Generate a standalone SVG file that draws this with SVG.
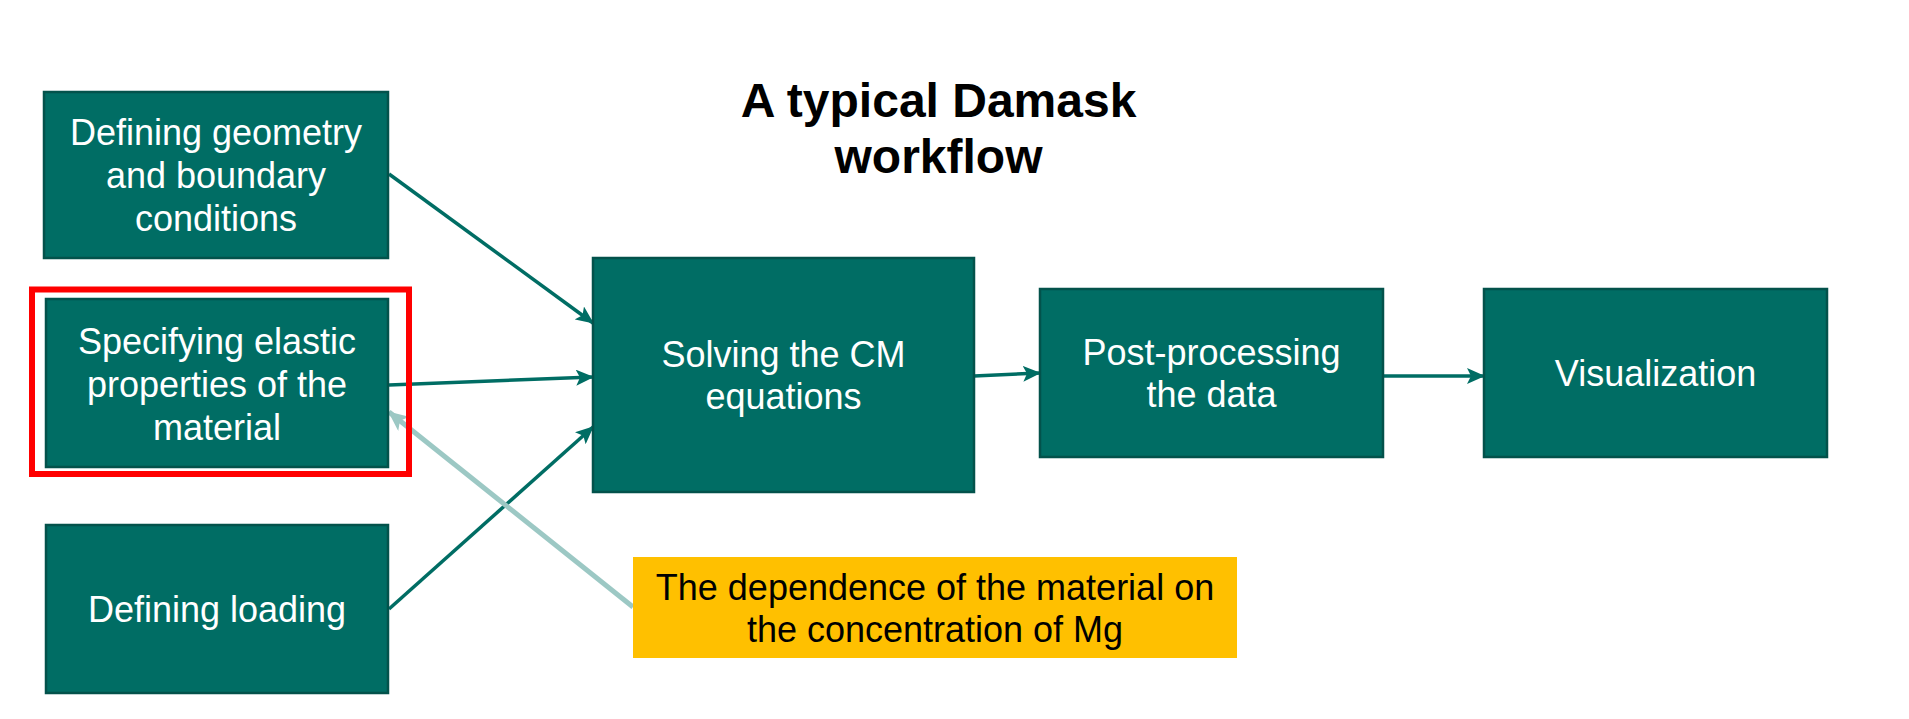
<svg xmlns="http://www.w3.org/2000/svg" width="1909" height="719" viewBox="0 0 1909 719">
<style>
.box{fill:#006D64;stroke:#03524B;stroke-width:2.5}
.lbl{font-family:"Liberation Sans",Arial,sans-serif;font-size:36px;fill:#ffffff;text-anchor:middle}
.note{font-family:"Liberation Sans",Arial,sans-serif;font-size:36px;fill:#000000;text-anchor:middle}
.title{font-family:"Liberation Sans",Arial,sans-serif;font-size:48px;font-weight:bold;fill:#000000;text-anchor:middle}
.conn{stroke:#006D64;stroke-width:3.5;fill:none;marker-end:url(#ah)}
.conn2{stroke:#9CC8C4;stroke-width:5;fill:none;marker-end:url(#ah2)}
</style>
<defs>
<marker id="ah" markerUnits="userSpaceOnUse" markerWidth="18" markerHeight="16" refX="17" refY="8" orient="auto">
<path d="M0,0 L18,8 L0,16 L4,8 Z" fill="#006D64"/>
</marker>
<marker id="ah2" markerUnits="userSpaceOnUse" markerWidth="20" markerHeight="18" refX="19" refY="9" orient="auto">
<path d="M0,0 L20,9 L0,18 L5,9 Z" fill="#9CC8C4"/>
</marker>
</defs>
<rect width="1909" height="719" fill="#ffffff"/>
<g id="title">
<text class="title" x="938.5" y="117">A typical Damask</text>
<text class="title" x="938.5" y="173">workflow</text>
</g>
<g id="connectors">
<line class="conn" x1="389" y1="174" x2="593" y2="323"/>
<line class="conn" x1="389" y1="385" x2="593" y2="377"/>
<line class="conn" x1="389" y1="609" x2="593" y2="427"/>
<line class="conn" x1="974" y1="376" x2="1040" y2="373"/>
<line class="conn" x1="1383" y1="376" x2="1484" y2="376"/>
<line class="conn2" x1="633" y1="607" x2="389" y2="412"/>
</g>
<g id="geometry">
<rect class="box" x="44" y="92" width="344" height="166"/>
<text class="lbl" x="216" y="145">Defining geometry</text>
<text class="lbl" x="216" y="188">and boundary</text>
<text class="lbl" x="216" y="231">conditions</text>
</g>
<g id="elastic">
<rect class="box" x="46" y="299" width="342" height="168"/>
<text class="lbl" x="217" y="354">Specifying elastic</text>
<text class="lbl" x="217" y="397">properties of the</text>
<text class="lbl" x="217" y="440">material</text>
</g>
<g id="highlight">
<rect x="32" y="289.5" width="377" height="184.5" fill="none" stroke="#FF0000" stroke-width="6"/>
</g>
<g id="loading">
<rect class="box" x="46" y="525" width="342" height="168"/>
<text class="lbl" x="217" y="622">Defining loading</text>
</g>
<g id="solving">
<rect class="box" x="593" y="258" width="381" height="234"/>
<text class="lbl" x="783.5" y="367">Solving the CM</text>
<text class="lbl" x="783.5" y="409">equations</text>
</g>
<g id="postprocessing">
<rect class="box" x="1040" y="289" width="343" height="168"/>
<text class="lbl" x="1211.5" y="365">Post-processing</text>
<text class="lbl" x="1211.5" y="407">the data</text>
</g>
<g id="visualization">
<rect class="box" x="1484" y="289" width="343" height="168"/>
<text class="lbl" x="1655.5" y="386">Visualization</text>
</g>
<g id="dependence">
<rect x="633" y="557" width="604" height="101" fill="#FFC000"/>
<text class="note" x="935" y="600">The dependence of the material on</text>
<text class="note" x="935" y="642">the concentration of Mg</text>
</g>
</svg>
